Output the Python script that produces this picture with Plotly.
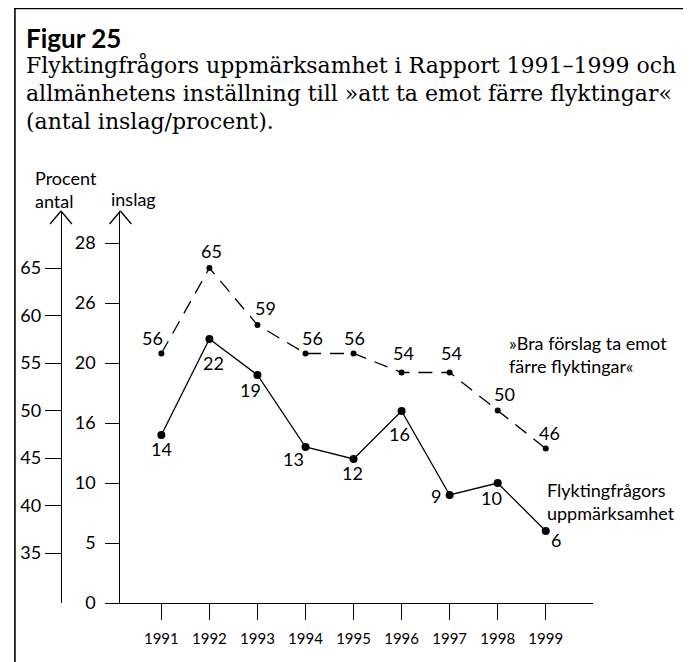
import plotly.graph_objects as go

# ---- data ----
years = [1991, 1992, 1993, 1994, 1995, 1996, 1997, 1998, 1999]
inslag = [14, 22, 19, 13, 12, 16, 9, 10, 6]          # antal inslag
procent = [56, 65, 59, 56, 56, 54, 54, 50, 46]        # procent "ta emot färre"
inslag_tickvals = [0, 5, 10, 15, 20, 25, 30]
inslag_ticktext = ["0", "5", "10", "16", "20", "26", "28"]
procent_ticks = [35, 40, 45, 50, 55, 60, 65]

title_bold = "Figur 25"
title_lines = [
    "Flyktingfrågors uppmärksamhet i Rapport 1991–1999 och",
    "allmänhetens inställning till »att ta emot färre flyktingar«",
    "(antal inslag/procent).",
]

# ---- styling / layout helpers (page pixel coordinates, page has 8px body margin) ----
OFF = 8
W, H = 691 - OFF, 662 - OFF
PL, PR, PT, PB = 56, 593, 211, 603      # plot area in page pixels
L, R, T, B = PL - OFF, PR - OFF, PT - OFF, PB - OFF

def px(x):
    return (x - PL) / (PR - PL)
def py(y):
    return (PB - y) / (PB - PT)

SANS = "Lato, 'Open Sans', sans-serif"
SERIF = "'DejaVu Serif', 'Liberation Serif', serif"

# label offsets (pixels) for data labels
pct_off = [(-9, 16), (2, 17), (8, 17), (7, 16), (1, 16), (2, 20), (2, 20), (7, 17), (4, 16)]
cnt_off = [(0, -14), (4, -24), (-7, -15), (-12, -12), (-1, -14), (-2, -23), (-14, -1), (-6, -15), (10, -9)]

fig = go.Figure()
fig.add_trace(go.Scatter(
    x=years, y=procent, yaxis="y2", mode="lines+markers",
    line=dict(color="black", width=1.3, dash="14px,9px"),
    marker=dict(color="black", size=6), showlegend=False, hoverinfo="skip"))
fig.add_trace(go.Scatter(
    x=years, y=inslag, yaxis="y", mode="lines+markers",
    line=dict(color="black", width=1.3),
    marker=dict(color="black", size=8), showlegend=False, hoverinfo="skip"))

ann = []
for xv, yv, (dx, dy) in zip(years, procent, pct_off):
    ann.append(dict(x=xv, y=yv, xref="x", yref="y2", text=str(yv), showarrow=False,
                    xshift=dx, yshift=dy, font=dict(family=SANS, size=18, color="black")))
for xv, yv, (dx, dy) in zip(years, inslag, cnt_off):
    ann.append(dict(x=xv, y=yv, xref="x", yref="y", text=str(yv), showarrow=False,
                    xshift=dx, yshift=dy, font=dict(family=SANS, size=18, color="black")))

def ptext(text, x, y, size=18, family=SANS, xanchor="left", bold=False):
    if bold:
        text = "<b>" + text + "</b>"
    ann.append(dict(x=px(x), y=py(y), xref="paper", yref="paper", text=text, showarrow=False,
                    xanchor=xanchor, yanchor="middle", align="left",
                    font=dict(family=family, size=size, color="black")))

# series labels
ptext("»Bra förslag ta emot<br>färre flyktingar«", 506, 354)
ptext("Flyktingfrågors<br>uppmärksamhet", 545, 501)

# axis titles
ptext("Procent<br>antal", 28, 189, size=18)
ptext("inslag", 104, 199)

# figure titles
ptext(title_bold, 19, 38, size=26, bold=True)
ptext(title_lines[0], 19, 65, size=22, family=SERIF)
ptext(title_lines[1], 19, 93, size=22, family=SERIF)
ptext(title_lines[2], 19, 121, size=22, family=SERIF)

shapes = []
def seg(x0, y0, x1, y1, w=1.3):
    shapes.append(dict(type="line", xref="paper", yref="paper",
                       x0=px(x0), y0=py(y0), x1=px(x1), y1=py(y1),
                       line=dict(color="black", width=w)))
# arrow heads
seg(45, 224, 56, 211); seg(56, 211, 67, 224)
seg(105, 224, 116, 211); seg(116, 211, 127, 224)
# frame
seg(9, 8.5, 700, 8.5, 1.6)
seg(9.5, 8, 9.5, 680, 1.6)

x_lo = 1991 - (157.3 - 116) / 48.5
x_hi = 1991 + (PR - 157.3) / 48.5

fig.update_layout(
    width=W, height=H, margin=dict(l=L, r=W - R, t=T, b=H - B),
    paper_bgcolor="white", plot_bgcolor="white",
    font=dict(family=SANS, size=18, color="black"),
    xaxis=dict(domain=[px(116), 1], range=[x_lo, x_hi], tickvals=years,
               ticks="outside", ticklen=16, tickwidth=1.3, tickcolor="black",
               showline=True, linecolor="black", linewidth=1.3, showgrid=False,
               zeroline=False, tickfont=dict(family=SANS, size=15), anchor="y",
               ticklabelstandoff=6),
    yaxis=dict(range=[0, (PB - PT) / 12.0], tickvals=inslag_tickvals, ticktext=inslag_ticktext,
               ticks="outside", ticklen=14, tickwidth=1.3, tickcolor="black",
               showline=True, linecolor="black", linewidth=1.3, showgrid=False,
               zeroline=False, tickfont=dict(family=SANS, size=18), anchor="x",
               ticklabelstandoff=6),
    yaxis2=dict(range=[65 - (PB - 268) / 9.5, 65 + (268 - PT) / 9.5], tickvals=procent_ticks,
                overlaying="y", side="left", anchor="free", position=0,
                ticks="outside", ticklen=16, tickwidth=1.3, tickcolor="black",
                showline=True, linecolor="black", linewidth=1.3, showgrid=False,
                zeroline=False, tickfont=dict(family=SANS, size=18)),
    annotations=ann, shapes=shapes,
)

fig.write_html("out.html")
